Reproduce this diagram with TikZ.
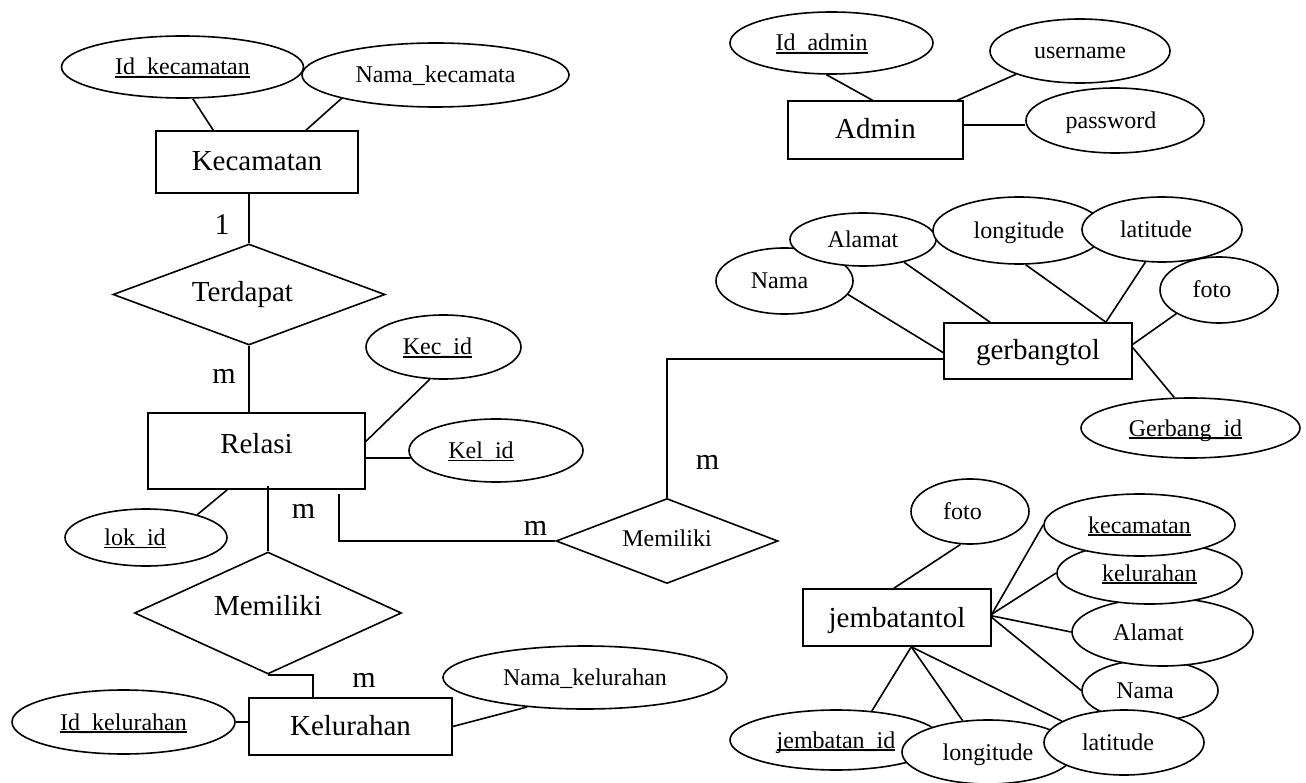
\documentclass[tikz,border=0pt]{standalone}
\usepackage{fontspec}
\setmainfont{Liberation Serif}
\usetikzlibrary{shapes.geometric}

% key attributes: text with a rule under the baseline
\newcommand\pk[1]{\setbox0=\hbox{#1}\rlap{\rule[-2.6pt]{\wd0}{1.2pt}}\box0}
% zero-width label; optional argument nudges the text left by half its value
\newcommand\lbl[2][0]{\makebox[0pt]{#2\hspace*{#1pt}}}

\tikzset{
  ent/.style={draw, rectangle, fill=white, inner sep=0pt, text height=17pt, text depth=0pt,
    font=\fontsize{29}{32}\selectfont},
  attr/.style={draw, ellipse, fill=white, inner sep=0pt, text height=16pt, text depth=0pt,
    font=\fontsize{24}{26}\selectfont},
  rel/.style={draw, diamond, fill=white, inner sep=0pt, text depth=0pt,
    font=\fontsize{29}{32}\selectfont},
  card/.style={inner sep=0pt, font=\fontsize{30}{32}\selectfont},
  wh/.style 2 args={minimum width=#1pt, minimum height=#2pt},
}

\begin{document}
\begin{tikzpicture}[x=1pt, y=-1pt, line width=1.6pt]
\useasboundingbox (0,0) rectangle (1306,783);

% ---------- Kecamatan / Relasi / Kelurahan ----------
\node[attr, wh={267}{64}] (namakec) at (435.5,75) {\lbl{Nama\_kecamata}};
\node[attr, wh={242}{62}] (idkec) at (182.5,67) {\lbl{\pk{Id\_kecamatan}}};
\node[ent, wh={202}{62}] (kec) at (257,162) {\lbl{Kecamatan}};
\node[rel, wh={272}{101}, text height=14pt] (terd) at (249,294.5) {\lbl[13]{Terdapat}};
\node[ent, wh={217}{76}, text height=4pt] (relasi) at (256.5,451) {\lbl{Relasi}};
\node[attr, wh={155}{64}] (kecid) at (443.5,347) {\lbl[12]{\pk{Kec\_id}}};
\node[attr, wh={174}{63}] (kelid) at (496,450.5) {\lbl[30]{\pk{Kel\_id}}};
\node[attr, wh={162}{57}] (lokid) at (146,537.5) {\lbl[22]{\pk{lok\_id}}};
\node[rel, wh={267}{122}, text height=4pt] (mem1) at (268,613) {\lbl{Memiliki}};
\node[ent, wh={203}{57}] (kel) at (350.5,726.5) {\lbl{Kelurahan}};
\node[attr, wh={223}{64}] (idkel) at (123.5,722) {\lbl{\pk{Id\_kelurahan}}};
\node[attr, wh={284}{63}] (namakel) at (585,677.5) {\lbl{Nama\_kelurahan}};
\node[rel, wh={222}{85}, text height=10pt, font=\fontsize{24}{26}\selectfont] (mem2) at (667,541) {\lbl{Memiliki}};

\node[card] (c1) at (222,225) {1};
\node[card] (c2) at (224,376.5) {m};
\node[card] (c3) at (303.5,511.5) {m};
\node[card] (c4) at (364,680.5) {m};
\node[card] (c5) at (535.5,528) {m};
\node[card] (c6) at (707.5,462) {m};

% ---------- Admin ----------
\node[attr, wh={203}{62}] (idadm) at (831.5,43) {\lbl[20]{\pk{Id\_admin}}};
\node[ent, wh={175}{58}] (admin) at (875.5,130) {\lbl{Admin}};
\node[attr, wh={180}{64}] (user) at (1080,51) {\lbl{username}};
\node[attr, wh={178}{65}] (pass) at (1115,120.5) {\lbl[8]{password}};

% ---------- gerbangtol ----------
\node[attr, wh={137}{66}] (gnama) at (784.5,281) {\lbl[10]{Nama}};
\node[attr, wh={146}{53}] (galamat) at (863,239.5) {\lbl{Alamat}};
\node[attr, wh={172}{67}] (glong) at (1019,230.5) {\lbl{longitude}};
\node[attr, wh={160}{65}] (glat) at (1162,229.5) {\lbl[12]{latitude}};
\node[attr, wh={118}{66}] (gfoto) at (1219,290) {\lbl[14]{foto}};
\node[ent, wh={188}{56}] (gerb) at (1038,351) {\lbl{gerbangtol}};
\node[attr, wh={219}{60}] (gid) at (1190.5,428) {\lbl[10]{\pk{Gerbang\_id}}};

% ---------- jembatantol ----------
\node[attr, wh={118}{65}] (jfoto) at (970,511.5) {\lbl[15]{foto}};
\node[ent, wh={188}{57}, text height=19pt] (jemb) at (897,617.5) {\lbl{jembatantol}};
\node[attr, wh={136}{61}] (jnama) at (1150,690.5) {\lbl[10]{Nama}};
\node[attr, wh={181}{68}] (jalamat) at (1162.5,632) {\lbl[28]{Alamat}};
\node[attr, wh={185}{62}] (jkel) at (1149.5,573) {\lbl{\pk{kelurahan}}};
\node[attr, wh={191}{62}] (jkec) at (1139.5,525) {\lbl{\pk{kecamatan}}};
\node[attr, wh={212}{60}] (jid) at (836,740) {\lbl{\pk{jembatan\_id}}};
\node[attr, wh={172}{64}] (jlong) at (988,752) {\lbl{longitude}};
\node[attr, wh={160}{65}] (jlat) at (1124,742.5) {\lbl[12]{latitude}};

% ---------- connectors ----------
\draw (idkec.288.7) -- (kec.144.2);
\draw (namakec.194.3) -- (kec.33.4);
\draw (kec.south -| terd.north) -- (terd.north);
\draw (terd.south) -- (terd.south |- relasi.north);
\draw (kecid.247.1) -- (relasi.5.8);
\draw ([yshift=-7pt]relasi.east) -- (kelid.185);
\draw (lokid.24.6) -- (relasi.233.1);
\draw ([yshift=4pt]relasi.south -| mem1.north) -- (mem1.north);
\draw (mem1.south) -| ([xshift=-37.5pt]kel.north);
\draw ([xshift=-27pt,yshift=-4pt]relasi.south east) |- (mem2.west);
\draw (mem2.north) |- ([yshift=-8pt]gerb.west);
\draw (idkel.east) -- (idkel.east -| kel.west);
\draw (kel.east) -- (namakel.207.3);

\draw (idadm.261.7) -- (admin.96.9);
\draw (user.200) -- (admin.20.4);
\draw ([yshift=5pt]admin.east) -- ([yshift=5pt]admin.east -| pass.west);

\draw (gnama.348.4) -- (gerb.181);
\draw (galamat.331) -- (gerb.149.2);
\draw (glong.281.8) -- (gerb.23.2);
\draw (glat.243.8) -- (gerb.23.2);
\draw (gfoto.209) -- (gerb.4.8);
\draw (gerb.2.4) -- (gid.118.8);

\draw (jfoto.254.8) -- (jemb.96);
\draw (jemb.2.7) -- (jkec.west);
\draw (jemb.2.7) -- (jkel.west);
\draw (jemb.1.5) -- (jalamat.west);
\draw (jemb.0.9) -- (jnama.west);
\draw (jemb.296.2) -- (jid.39.6);
\draw (jemb.296.2) -- (jlong.129.2);
\draw (jemb.296.2) -- (jlat.161);
\end{tikzpicture}
\end{document}
